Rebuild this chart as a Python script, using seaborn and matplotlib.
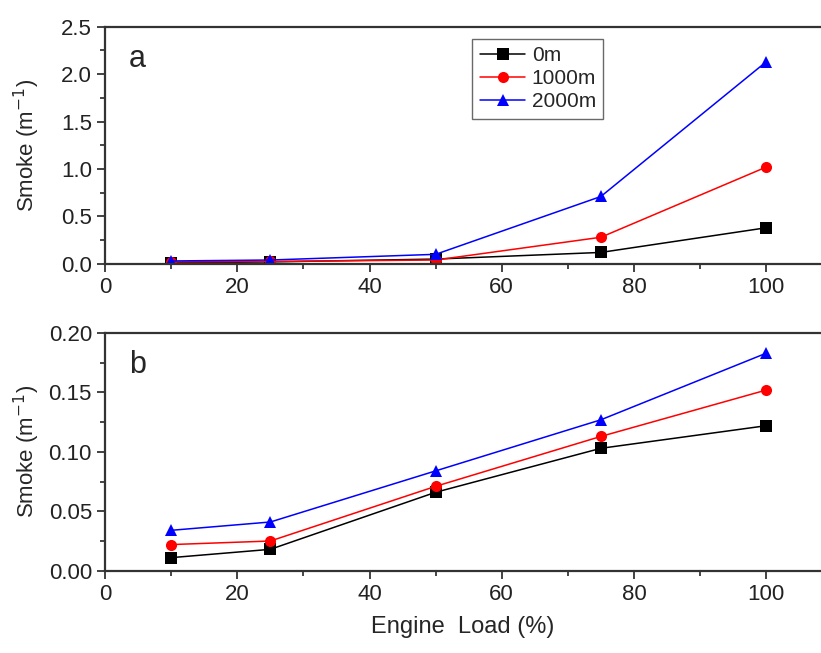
import matplotlib
matplotlib.use("Agg")
import matplotlib.pyplot as plt
import numpy as np
import pandas as pd
import seaborn as sns
from matplotlib.ticker import MultipleLocator, FormatStrFormatter

# data
load = [10, 25, 50, 75, 100]
altitudes = ["0m", "1000m", "2000m"]

smoke_a_0 = [0.01, 0.02, 0.05, 0.12, 0.38]
smoke_a_1000 = [0.02, 0.025, 0.04, 0.28, 1.02]
smoke_a_2000 = [0.03, 0.04, 0.10, 0.71, 2.13]

smoke_b_0 = [0.011, 0.018, 0.066, 0.103, 0.122]
smoke_b_1000 = [0.022, 0.025, 0.071, 0.113, 0.152]
smoke_b_2000 = [0.034, 0.041, 0.084, 0.127, 0.183]


def to_long(series):
    frames = []
    for name, vals in zip(altitudes, series):
        frames.append(pd.DataFrame({"load": load, "smoke": vals, "alt": name}))
    return pd.concat(frames, ignore_index=True)


data_a = to_long([smoke_a_0, smoke_a_1000, smoke_a_2000])
data_b = to_long([smoke_b_0, smoke_b_1000, smoke_b_2000])

sns.set_theme(style="ticks")
plt.rcParams["font.family"] = ["Liberation Sans", "DejaVu Sans"]

palette = {"0m": "black", "1000m": "#ff0000", "2000m": "#0000ff"}
markers = {"0m": "s", "1000m": "o", "2000m": "^"}

fig = plt.figure(figsize=(8.21, 6.53), dpi=100)
ax1 = fig.add_axes([0.128, 0.596, 0.872, 0.363])
ax2 = fig.add_axes([0.128, 0.126, 0.872, 0.364])

for ax, data in [(ax1, data_a), (ax2, data_b)]:
    sns.lineplot(data=data, x="load", y="smoke", hue="alt", style="alt",
                 palette=palette, markers=markers, dashes=False,
                 markersize=8, markeredgewidth=0, linewidth=1.1,
                 ax=ax, legend=(ax is ax1))
    ax.set_xlim(0, 108.3)
    ax.xaxis.set_major_locator(MultipleLocator(20))
    ax.xaxis.set_minor_locator(MultipleLocator(10))
    ax.tick_params(which="major", direction="out", length=6, width=1.2,
                   labelsize=16, colors="#222222")
    ax.tick_params(which="minor", direction="out", length=3.5, width=1.2)
    ax.spines["right"].set_visible(False)
    for s in ["left", "bottom", "top"]:
        ax.spines[s].set_linewidth(1.6)
        ax.spines[s].set_color("#333333")
    ax.set_xlabel("")
    ax.set_ylabel("Smoke (m$^{-1}$)", fontsize=16)
    ax.yaxis.set_label_coords(-0.088, 0.5)

ax1.set_ylim(0, 2.5)
ax1.yaxis.set_major_locator(MultipleLocator(0.5))
ax1.yaxis.set_minor_locator(MultipleLocator(0.25))
ax1.yaxis.set_major_formatter(FormatStrFormatter("%.1f"))

ax2.set_ylim(0, 0.2)
ax2.yaxis.set_major_locator(MultipleLocator(0.05))
ax2.yaxis.set_minor_locator(MultipleLocator(0.025))
ax2.yaxis.set_major_formatter(FormatStrFormatter("%.2f"))
ax2.set_xlabel("Engine  Load (%)", fontsize=17, labelpad=8)

ax1.text(0.033, 0.83, "a", transform=ax1.transAxes, fontsize=22)
ax2.text(0.033, 0.83, "b", transform=ax2.transAxes, fontsize=22)

leg = ax1.legend(loc="upper left", bbox_to_anchor=(0.513, 0.95), fontsize=15,
                 frameon=True, fancybox=False, edgecolor="#444444",
                 handlelength=2.2, borderpad=0.35, labelspacing=0.2,
                 handletextpad=0.3, borderaxespad=0)
leg.get_frame().set_linewidth(1.0)

fig.savefig("out.png", dpi=100)
